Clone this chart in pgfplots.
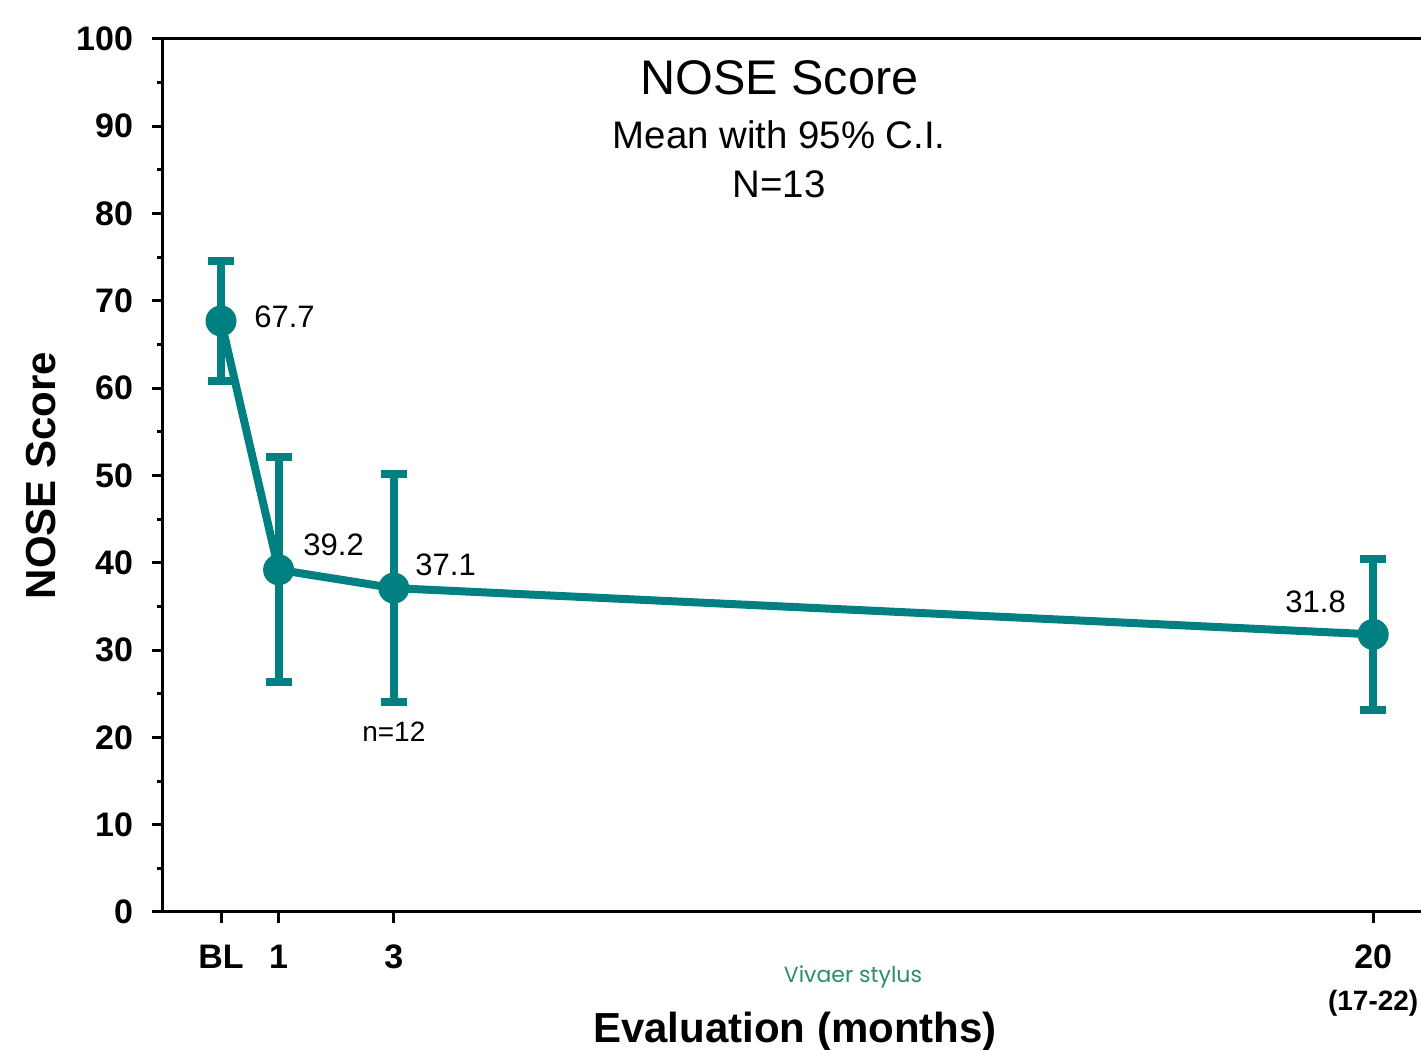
\documentclass[border=0pt]{standalone}
\usepackage{pgfplots}
\pgfplotsset{compat=1.18}
\usepackage{fontspec}
\setmainfont{Liberation Sans}
\newfontfamily\gothic{Poppins}
\definecolor{tealA}{RGB}{0,128,128}
\definecolor{viv}{RGB}{46,139,110}
\begin{document}
\begin{tikzpicture}
\begin{axis}[
  at={(0,0)}, anchor=south west, scale only axis,
  width=629pt, height=436.5pt,
  xmin=-1.007, xmax=20.83, ymin=0, ymax=100,
  axis x line*=bottom, axis y line*=left,
  axis line style={-, line width=1.5pt, black},
  xtick={0,1,3,20},
  xticklabels={BL,1,3,{20\\{\fontsize{14}{16}\selectfont (17-22)}}},
  ytick={0,10,...,100},
  minor y tick num=1,
  tick align=outside,
  major tick length=5.5pt, minor tick length=3pt,
  tick style={line width=1.5pt, black},
  xtick pos=bottom, ytick pos=left,
  /pgf/number format/assume math mode=true,
  xticklabel style={font=\fontsize{17}{21}\selectfont\bfseries, align=center, yshift=-7.5pt},
  yticklabel style={font=\fontsize{17}{21}\selectfont\bfseries, xshift=-6pt},
  xlabel={Evaluation (months)},
  ylabel={NOSE Score},
  xlabel style={at={(axis description cs:0.5024,-0.1374)}, anchor=center, font=\fontsize{21}{25}\selectfont\bfseries},
  ylabel style={at={(axis description cs:-0.097,0.5)}, anchor=center, font=\fontsize{21}{25}\selectfont\bfseries},
  clip=false,
]
\addplot[tealA, line width=4pt, mark=*, mark size=7.5pt,
  mark options={solid, fill=tealA, draw=tealA, line width=0.5pt},
  error bars/.cd, y dir=both, y explicit,
  error bar style={line width=4pt, tealA},
  error mark options={rotate=90, mark size=6.5pt, line width=4pt, tealA}]
coordinates {
  (0,67.7) +- (0,6.9)
  (1,39.2) +- (0,12.9)
  (3,37.1) +- (0,13.05)
  (20,31.8) +- (0,8.65)
};
\draw[line width=1.5pt, black] (rel axis cs:0,1) -- (rel axis cs:1,1);
\pgfplotsinvokeforeach{1,...,9}{\draw[line width=1.5pt, black] (rel axis cs:1,0.#1) -- ++(-2pt,0);}
\node[anchor=west, inner sep=0, font=\fontsize{15.5}{18}\selectfont, xshift=16.5pt, yshift=2pt] at (axis cs:0,67.7) {67.7};
\node[anchor=west, inner sep=0, font=\fontsize{15.5}{18}\selectfont, xshift=12.2pt, yshift=12.4pt] at (axis cs:1,39.2) {39.2};
\node[anchor=west, inner sep=0, font=\fontsize{15.5}{18}\selectfont, xshift=10.6pt, yshift=11.5pt] at (axis cs:3,37.1) {37.1};
\node[anchor=east, inner sep=0, font=\fontsize{15.5}{18}\selectfont, xshift=-13.5pt, yshift=16.5pt] at (axis cs:20,31.8) {31.8};
\node[anchor=center, inner sep=0, font=\fontsize{14}{16}\selectfont] at (axis cs:3,20.6) {n=12};
\node[anchor=center, inner sep=0, font=\fontsize{24.3}{28}\selectfont] at (axis cs:9.69,95.53) {NOSE Score};
\node[anchor=center, inner sep=0, font=\fontsize{19.2}{23}\selectfont] at (axis cs:9.69,89.0) {Mean with 95\% C.I.};
\node[anchor=center, inner sep=0, font=\fontsize{19.2}{23}\selectfont] at (axis cs:9.69,83.39) {N=13};
\node[anchor=center, inner sep=0, text=viv, font=\gothic\fontsize{11}{13}\selectfont] at (axis cs:10.97,-7.45) {Vivaer stylus};
\end{axis}
\pgfresetboundingbox
\path[use as bounding box] (-81.5pt,-69pt) rectangle (629pt,456pt);
\end{tikzpicture}
\end{document}
